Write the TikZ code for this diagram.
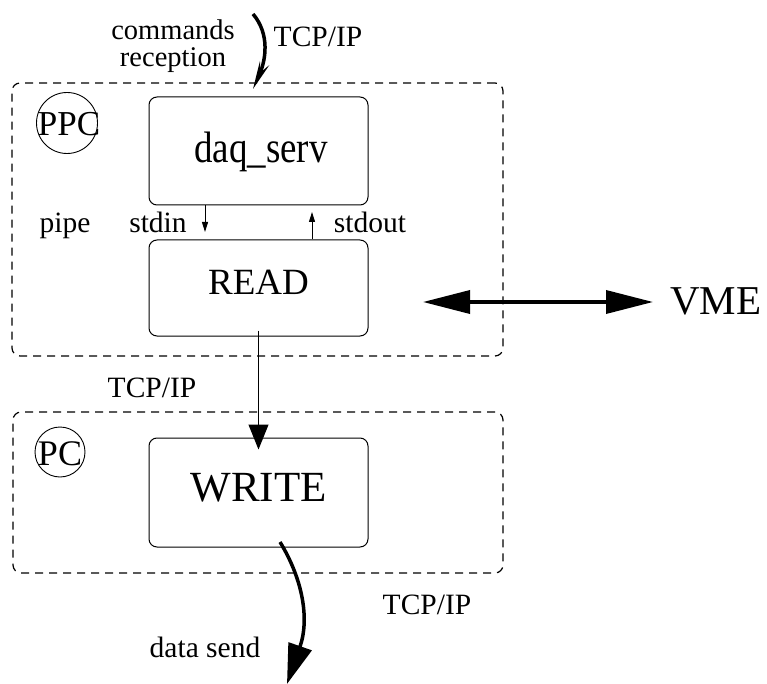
\documentclass[tikz,border=0pt]{standalone}
\usepackage{fontspec}
\setmainfont{Liberation Serif}
\usetikzlibrary{arrows.meta}
\begin{document}
\begin{tikzpicture}[x=1pt,y=-1pt,
  small/.style={font=\fontsize{29.5}{25}\selectfont, inner sep=0pt},
  big/.style={font=\fontsize{#1}{#1}\selectfont, inner sep=0pt},
  procbox/.style={draw, line width=1pt, rounded corners=8pt, minimum width=219pt, inner sep=0pt},
  hostbox/.style={draw, line width=1.2pt, dash pattern=on 8pt off 6pt, rounded corners=8pt, inner sep=0pt},
  hostcirc/.style={draw, circle, line width=0.9pt, inner sep=0pt},
  thin arrow/.style={line width=1pt, -{Triangle[length=10pt,width=6pt]}},
  thick line/.style={line width=3.5pt}
]
\useasboundingbox (0,0) rectangle (767,684);
% host boxes
\node[hostbox, minimum width=491pt, minimum height=273pt] (ppcbox) at (257.5,219.5) {};
\node[hostbox, minimum width=490pt, minimum height=161pt] (pcbox) at (258,492.5) {};
% circles
\node[hostcirc, minimum size=61pt] (ppccirc) at (67,123) {};
\node[big=35, anchor=base] (ppctext) at (69,136) {PPC};
\node[hostcirc, minimum size=50pt] (pccirc) at (60,452) {};
\node[big=36, anchor=base] (pctext) at (60,465) {PC};
% process boxes
\node[procbox, minimum height=108pt] (daq) at (258.5,151) {};
\node[procbox, minimum height=96pt] (read) at (258.5,288) {};
\node[procbox, minimum height=109pt] (write) at (258.5,492.5) {};
\node[big=44, anchor=base] (daqtext) at (261,163) {\scalebox{0.84}[1]{daq\_serv}};
\node[big=37, anchor=base] (readtext) at (258.5,294) {READ};
\node[big=43, anchor=base] (writetext) at (258.5,501) {WRITE};
% pipe arrows
\coordinate (stdinend) at (205,232);
\coordinate (stdoutend) at (312,212);
\draw[thin arrow] (daq.south -| stdinend) -- (stdinend);
\draw[thin arrow] (read.north -| stdoutend) -- (stdoutend);
\node[small, anchor=base] (pipe) at (65,233) {pipe};
\node[small, anchor=base] (stdin) at (158,233) {stdin};
\node[small, anchor=base] (stdout) at (370,233) {stdout};
% READ -> WRITE
\draw[line width=1pt, -{Triangle[length=25pt,width=20pt]}] ([yshift=6pt]read.south) -- ([yshift=-12pt]write.north);
\node[small, anchor=base] (tcpmid) at (152,397) {TCP/IP};
% VME
\node[big=41, anchor=west] (vme) at (670,301) {VME};
\coordinate (vmeleft) at (423,302);
\draw[thick line, {Triangle[length=47pt,width=23pt]}-{Triangle[length=47pt,width=23pt]}] (vmeleft) -- ([xshift=-17pt]vme.west |- vmeleft);
% top incoming arrow
\coordinate (cmdstart) at (253,14);
\coordinate (cmdtip) at (253,89);
\draw[thick line, -{Stealth[length=28pt,width=10pt,inset=10pt]}] (cmdstart) .. controls (270,34) and (266,60) .. (cmdtip);
\node[small, align=center, font=\fontsize{28.5}{27}\selectfont] (cmd) at (173,46) {commands\\reception};
\node[small, anchor=base] (tcptop) at (318,47) {TCP/IP};
% bottom outgoing arrow
\coordinate (sendstart) at (280,542);
\coordinate (sendtip) at (287,684);
\draw[thick line, -{Triangle[length=40pt,width=24pt]}] (sendstart) .. controls (302,578) and (310,618) .. (sendtip);
\node[small, anchor=base] (datasend) at (205,657) {data send};
\node[small, anchor=base] (tcpbot) at (427,614) {TCP/IP};
\end{tikzpicture}
\end{document}
